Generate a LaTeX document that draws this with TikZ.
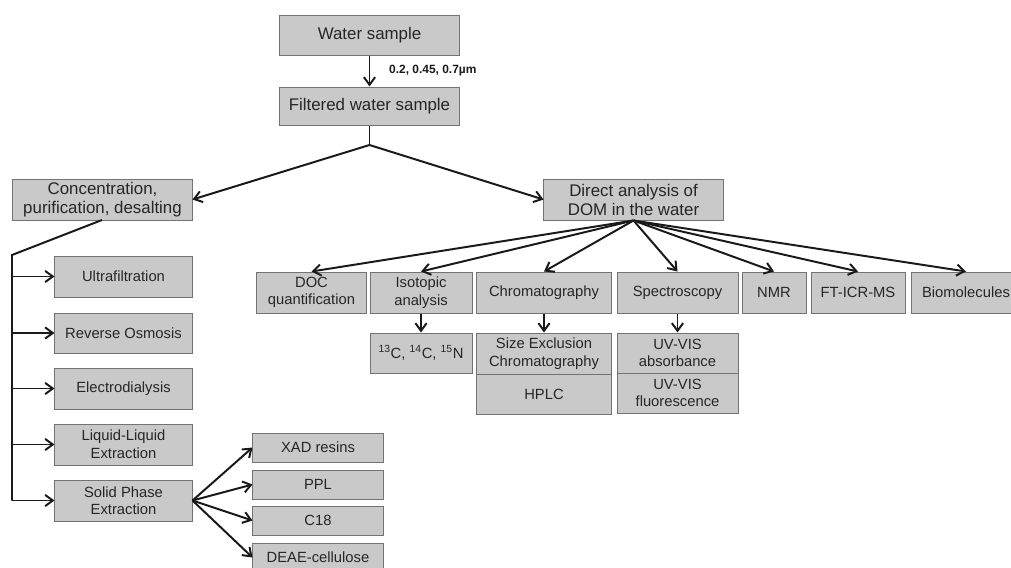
\documentclass[tikz,border=0pt]{standalone}
\usepackage{fontspec}
\setmainfont{Liberation Sans}
\usetikzlibrary{arrows.meta}

\begin{document}
\begin{tikzpicture}[x=0.025cm,y=-0.025cm,
  box/.style={draw=black!55,line width=0.7pt,fill=black!21,inner sep=0pt,align=center,text=black!85},
  big/.style={box,font=\fontsize{12}{13.5}\selectfont},
  small/.style={box,font=\fontsize{10.5}{12.5}\selectfont},
  link/.style={line width=1.4pt,black!90},
  arr/.style={link,-{Straight Barb[length=5.5pt,width=8pt,line width=1.4pt]}}]
\useasboundingbox (0,0) rectangle (1011,567);
{
% top of the scheme
\node[big,minimum width=4.475cm,minimum height=1cm] (ws) at (369.5,35) {Water sample};
\node[big,minimum width=4.475cm,minimum height=0.95cm] (fws) at (369.5,106) {Filtered water sample};
\draw[arr] (ws) -- node[anchor=west,xshift=0.35cm,font=\bfseries\fontsize{8.5}{10}\selectfont]{0.2, 0.45, 0.7µm} (fws);
\node[big,minimum width=4.475cm,minimum height=1.025cm] (conc) at (102.5,199.5) {Concentration,\\purification, desalting};
\node[big,minimum width=4.475cm,minimum height=1.025cm] (direct) at (633.5,199.5) {Direct analysis of\\DOM in the water};
\coordinate (split) at (369.5,145);
\draw[link] (fws.south) -- (split);
\draw[arr] (split) -- (conc.east);
\draw[arr] (split) -- (direct.west);
%
% concentration methods
\node[small,minimum width=3.425cm,minimum height=1.025cm] (ultra) at (123.5,276.5) {Ultrafiltration};
\node[small,minimum width=3.425cm,minimum height=1cm] (ro) at (123.5,333) {Reverse Osmosis};
\node[small,minimum width=3.425cm,minimum height=1.025cm] (ed) at (123.5,388.5) {Electrodialysis};
\node[small,minimum width=3.425cm,minimum height=1.025cm] (ll) at (123.5,444.5) {Liquid-Liquid\\Extraction};
\node[small,minimum width=3.425cm,minimum height=1.025cm] (spe) at (123.5,500.5) {Solid Phase\\Extraction};
\coordinate (spine) at (12,255);
\draw[link] (102,220) -- (spine) -- (spine |- spe.west);
\foreach \n in {ultra,ro,ed,ll,spe}{
\draw[arr] (spine |- \n.west) -- (\n.west);
}
\node[small,minimum width=3.25cm,minimum height=0.725cm] (xad) at (318,447.5) {XAD resins};
\node[small,minimum width=3.25cm,minimum height=0.725cm] (ppl) at (318,484.5) {PPL};
\node[small,minimum width=3.25cm,minimum height=0.725cm] (c18) at (318,520.5) {C18};
\node[small,minimum width=3.25cm,minimum height=0.725cm] (deae) at (318,557.5) {DEAE-cellulose};
\foreach \n in {xad,ppl,c18,deae}{
\draw[arr] (spe.east) -- (\n.west);
}
%
% direct analysis
\node[small,minimum width=2.725cm,minimum height=1.025cm] (doc) at (311.5,292.5) {DOC\\quantification};
\node[small,minimum width=2.55cm,minimum height=1.025cm] (iso) at (421,292.5) {Isotopic\\analysis};
\node[small,minimum width=3.35cm,minimum height=1.025cm] (chrom) at (544,292.5) {Chromatography};
\node[small,minimum width=3.025cm,minimum height=1.025cm] (spec) at (677.5,292.5) {Spectroscopy};
\node[small,minimum width=1.6cm,minimum height=1.025cm] (nmr) at (774,292.5) {NMR};
\node[small,minimum width=2.35cm,minimum height=1.025cm] (ft) at (858,292.5) {FT-ICR-MS};
\node[small,minimum width=2.75cm,minimum height=1.025cm] (bio) at (966,292.5) {Biomolecules};
\foreach \n in {doc,iso,chrom,spec,nmr,ft,bio}{
\draw[arr] (direct.south) -- (\n.north);
}
\node[small,minimum width=2.55cm,minimum height=1cm] (iso2) at (421,353) {\textsuperscript{13}C, \textsuperscript{14}C, \textsuperscript{15}N};
\node[small,minimum width=3.35cm,minimum height=1.025cm] (sec) at (544,353.5) {Size Exclusion\\Chromatography};
\node[small,minimum width=3.35cm,minimum height=1cm] (hplc) at (544,394) {HPLC};
\node[small,minimum width=3.025cm,minimum height=1cm] (uvabs) at (677.5,353) {UV-VIS\\absorbance};
\node[small,minimum width=3.025cm,minimum height=1cm] (uvfl) at (677.5,393) {UV-VIS\\fluorescence};
\draw[arr] (iso) -- (iso2);
\draw[arr] (chrom) -- (sec);
\draw[arr] (spec) -- (uvabs);
}
\end{tikzpicture}
\end{document}
